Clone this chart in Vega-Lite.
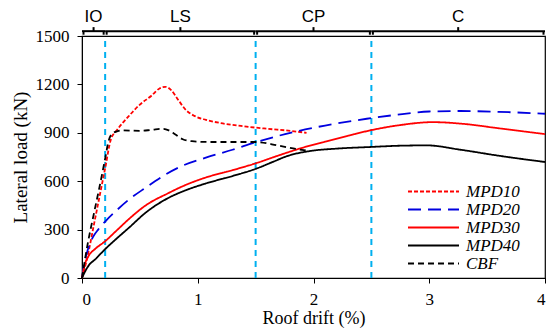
{
  "$schema": "https://vega.github.io/schema/vega-lite/v6.json",
  "autosize": {"type": "none"},
  "width": 463,
  "height": 242,
  "padding": {"left": 82, "top": 36, "right": 4, "bottom": 51},
  "background": "white",
  "config": {
    "view": {"stroke": "black", "strokeWidth": 1.2},
    "axis": {
      "grid": false, "domainColor": "black", "tickColor": "black", "tickSize": 5,
      "labelFont": "Liberation Serif", "labelFontSize": 17, "labelColor": "black",
      "titleFont": "Liberation Serif", "titleFontSize": 19, "titleFontWeight": "normal", "titleColor": "black"
    }
  },
  "datasets": {
    "curves": [
      {"series":"MPD10","x":0,"y":0},{"series":"MPD10","x":0.05,"y":140},{"series":"MPD10","x":0.1,"y":320},{"series":"MPD10","x":0.15,"y":500},{"series":"MPD10","x":0.2,"y":680},{"series":"MPD10","x":0.25,"y":860},{"series":"MPD10","x":0.3,"y":915},{"series":"MPD10","x":0.4,"y":1000},{"series":"MPD10","x":0.5,"y":1075},{"series":"MPD10","x":0.6,"y":1130},{"series":"MPD10","x":0.67,"y":1175},{"series":"MPD10","x":0.72,"y":1185},{"series":"MPD10","x":0.77,"y":1165},{"series":"MPD10","x":0.83,"y":1105},{"series":"MPD10","x":0.9,"y":1040},{"series":"MPD10","x":0.97,"y":1005},{"series":"MPD10","x":1.07,"y":980},{"series":"MPD10","x":1.2,"y":960},{"series":"MPD10","x":1.4,"y":940},{"series":"MPD10","x":1.6,"y":925},{"series":"MPD10","x":1.8,"y":912},{"series":"MPD10","x":1.94,"y":900},
      {"series":"MPD20","x":0,"y":0},{"series":"MPD20","x":0.01,"y":50},{"series":"MPD20","x":0.05,"y":175},{"series":"MPD20","x":0.1,"y":260},{"series":"MPD20","x":0.14,"y":300},{"series":"MPD20","x":0.2,"y":350},{"series":"MPD20","x":0.3,"y":420},{"series":"MPD20","x":0.4,"y":483},{"series":"MPD20","x":0.55,"y":560},{"series":"MPD20","x":0.7,"y":632},{"series":"MPD20","x":0.85,"y":690},{"series":"MPD20","x":1.07,"y":746},{"series":"MPD20","x":1.3,"y":795},{"series":"MPD20","x":1.51,"y":843},{"series":"MPD20","x":1.8,"y":900},{"series":"MPD20","x":2.1,"y":945},{"series":"MPD20","x":2.46,"y":987},{"series":"MPD20","x":2.7,"y":1010},{"series":"MPD20","x":3.0,"y":1032},{"series":"MPD20","x":3.27,"y":1035},{"series":"MPD20","x":3.6,"y":1030},{"series":"MPD20","x":4.0,"y":1018},
      {"series":"MPD30","x":0,"y":0},{"series":"MPD30","x":0.02,"y":72},{"series":"MPD30","x":0.06,"y":140},{"series":"MPD30","x":0.11,"y":178},{"series":"MPD30","x":0.2,"y":228},{"series":"MPD30","x":0.3,"y":295},{"series":"MPD30","x":0.4,"y":362},{"series":"MPD30","x":0.55,"y":450},{"series":"MPD30","x":0.74,"y":524},{"series":"MPD30","x":0.9,"y":578},{"series":"MPD30","x":1.07,"y":623},{"series":"MPD30","x":1.3,"y":668},{"series":"MPD30","x":1.51,"y":713},{"series":"MPD30","x":1.7,"y":760},{"series":"MPD30","x":1.88,"y":802},{"series":"MPD30","x":2.1,"y":845},{"series":"MPD30","x":2.3,"y":882},{"series":"MPD30","x":2.49,"y":915},{"series":"MPD30","x":2.75,"y":948},{"series":"MPD30","x":3.03,"y":966},{"series":"MPD30","x":3.3,"y":955},{"series":"MPD30","x":3.6,"y":928},{"series":"MPD30","x":4.0,"y":892},
      {"series":"MPD40","x":0,"y":0},{"series":"MPD40","x":0.02,"y":31},{"series":"MPD40","x":0.06,"y":80},{"series":"MPD40","x":0.11,"y":113},{"series":"MPD40","x":0.2,"y":179},{"series":"MPD40","x":0.3,"y":245},{"series":"MPD40","x":0.4,"y":308},{"series":"MPD40","x":0.55,"y":405},{"series":"MPD40","x":0.74,"y":494},{"series":"MPD40","x":0.9,"y":545},{"series":"MPD40","x":1.07,"y":586},{"series":"MPD40","x":1.3,"y":632},{"series":"MPD40","x":1.51,"y":679},{"series":"MPD40","x":1.65,"y":720},{"series":"MPD40","x":1.77,"y":755},{"series":"MPD40","x":1.97,"y":787},{"series":"MPD40","x":2.2,"y":802},{"series":"MPD40","x":2.49,"y":812},{"series":"MPD40","x":2.75,"y":820},{"series":"MPD40","x":2.98,"y":822},{"series":"MPD40","x":3.27,"y":795},{"series":"MPD40","x":3.6,"y":758},{"series":"MPD40","x":4.0,"y":719},
      {"series":"CBF","x":0,"y":0},{"series":"CBF","x":0.05,"y":215},{"series":"CBF","x":0.1,"y":390},{"series":"CBF","x":0.15,"y":560},{"series":"CBF","x":0.2,"y":740},{"series":"CBF","x":0.23,"y":850},{"series":"CBF","x":0.27,"y":900},{"series":"CBF","x":0.35,"y":915},{"series":"CBF","x":0.5,"y":912},{"series":"CBF","x":0.6,"y":918},{"series":"CBF","x":0.7,"y":925},{"series":"CBF","x":0.75,"y":915},{"series":"CBF","x":0.8,"y":893},{"series":"CBF","x":0.87,"y":860},{"series":"CBF","x":0.95,"y":848},{"series":"CBF","x":1.1,"y":843},{"series":"CBF","x":1.3,"y":843},{"series":"CBF","x":1.5,"y":843},{"series":"CBF","x":1.7,"y":820},{"series":"CBF","x":1.85,"y":800},{"series":"CBF","x":1.97,"y":787}
    ],
    "levels": [
      {"level":"IO","start":0,"end":0.2,"mid":0.1},
      {"level":"LS","start":0.2,"end":1.5,"mid":0.85},
      {"level":"CP","start":1.5,"end":2.5,"mid":2.0},
      {"level":"C","start":2.5,"end":4.0,"mid":3.25}
    ]
  },
  "layer": [
    {
      "data": {"name": "levels"},
      "mark": {"type": "rule", "color": "#00B0F0", "strokeWidth": 2, "strokeDash": [6, 5]},
      "transform": [{"filter": "datum.start > 0"}],
      "encoding": {
        "x": {"field": "start", "type": "quantitative"},
        "y": {"datum": 0},
        "y2": {"datum": 1500}
      }
    },
    {
      "data": {"name": "curves"},
      "mark": {"type": "line", "strokeWidth": 1.8, "interpolate": "monotone"},
      "encoding": {
        "x": {"field": "x", "type": "quantitative", "title": "Roof drift (%)",
              "scale": {"domain": [0, 4], "nice": false},
              "axis": {"values": [0,1,2,3,4], "format": "d", "labelFont": "Liberation Serif", "labelFontSize": 17, "labelPadding": 8, "titlePadding": 2, "titleFontSize": 18}},
        "y": {"field": "y", "type": "quantitative", "title": "Lateral load (kN)",
              "scale": {"domain": [0, 1500], "nice": false},
              "axis": {"values": [0,300,600,900,1200,1500], "format": "d", "labelFont": "Liberation Serif", "labelFontSize": 17, "labelPadding": 8, "titlePadding": 5}},
        "color": {"field": "series", "type": "nominal",
                  "scale": {"domain": ["MPD10","MPD20","MPD30","MPD40","CBF"], "range": ["#FF0000","#0000E0","#FF0000","#000000","#000000"]},
                  "legend": {"title": null, "orient": "none", "legendX": 342, "legendY": 146,
                             "symbolType": "M-3,0H3", "symbolSize": 289, "symbolStrokeWidth": 2,
                             "labelFont": "Liberation Serif", "labelFontStyle": "italic", "labelFontSize": 17,
                             "labelColor": "black", "rowPadding": 0, "labelOffset": 23}},
        "strokeDash": {"field": "series", "type": "nominal",
                       "scale": {"domain": ["MPD10","MPD20","MPD30","MPD40","CBF"], "range": [[4,2],[13,7],[1,0],[1,0],[6,4]]},
                       "legend": null},
        "order": {"field": "x", "type": "quantitative"}
      }
    },
    {
      "data": {"name": "levels"},
      "mark": {"type": "rule", "color": "black", "strokeWidth": 2},
      "encoding": {
        "x": {"field": "start", "type": "quantitative"},
        "x2": {"field": "end"},
        "y": {"datum": 1530}
      }
    },
    {
      "data": {"name": "levels"},
      "mark": {"type": "rule", "color": "black", "strokeWidth": 2, "xOffset": 1.5},
      "encoding": {
        "x": {"field": "start", "type": "quantitative"},
        "y": {"datum": 1508},
        "y2": {"datum": 1530}
      }
    },
    {
      "data": {"name": "levels"},
      "mark": {"type": "rule", "color": "black", "strokeWidth": 2, "xOffset": -1.5},
      "encoding": {
        "x": {"field": "end", "type": "quantitative"},
        "y": {"datum": 1508},
        "y2": {"datum": 1530}
      }
    },
    {
      "data": {"name": "levels"},
      "mark": {"type": "rule", "color": "black", "strokeWidth": 2},
      "encoding": {
        "x": {"field": "mid", "type": "quantitative"},
        "y": {"datum": 1530},
        "y2": {"datum": 1555}
      }
    },
    {
      "data": {"name": "levels"},
      "mark": {"type": "text", "font": "Liberation Sans", "fontSize": 17, "color": "black", "baseline": "middle"},
      "encoding": {
        "x": {"field": "mid", "type": "quantitative"},
        "y": {"datum": 1620},
        "text": {"field": "level"}
      }
    }
  ]
}
